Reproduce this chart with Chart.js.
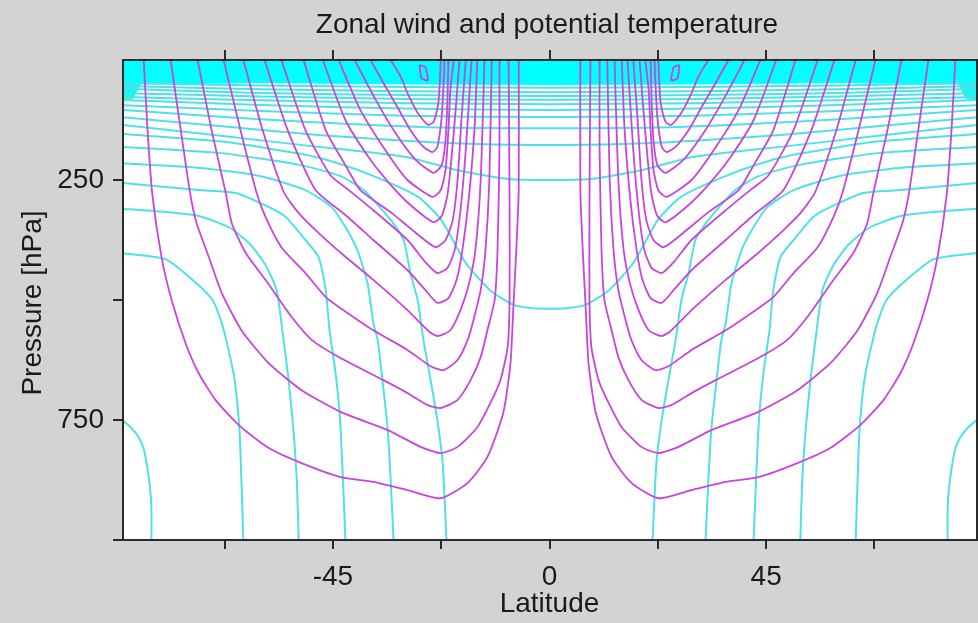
<!DOCTYPE html>
<html>
<head>
<meta charset="utf-8">
<title>Zonal wind and potential temperature</title>
<script src="https://cdn.jsdelivr.net/npm/chart.js@4.4.1/dist/chart.umd.min.js"></script>
<style>
  html, body { margin: 0; padding: 0; background: #d3d3d3; }
  #chart { display: block; }
</style>
</head>
<body>
<canvas id="chart" width="978" height="623"></canvas>
<script>
// Axis ticks and labels
const latTicks = [-67.5, -45, -22.5, 0, 22.5, 45, 67.5];
const latLabels = [-45, 0, 45];
const presTicks = [250, 500, 750];
const presLabels = [250, 750];

const titleText = "Zonal wind and potential temperature";
const xTitle = "Latitude";
const yTitle = "Pressure [hPa]";

// Zonal wind contours, southern hemisphere, [latitude, hPa] (north is the mirror image)
const windSouth = [
  [[-84.3,0],[-83.5,146],[-82.5,281],[-80.6,410],[-78.5,500],[-75.6,590],[-72.9,652],[-69.4,708],[-64.6,760],[-58.4,808],[-51.5,840],[-43.4,869],[-36.6,879],[-29.5,896],[-22.6,913],[-17.0,881],[-12.9,827],[-9.6,735],[-8.1,631],[-7.5,513],[-6.9,396],[-6.4,271],[-6.4,0]],
  [[-78.7,0],[-76.6,146],[-74.6,281],[-73.3,340],[-70.8,410],[-68.1,485],[-64.0,563],[-58.4,631],[-51.5,688],[-43.4,733],[-33.6,771],[-26.8,806],[-22.6,819],[-19.1,806],[-15.0,765],[-12.3,715],[-10.2,667],[-8.7,598],[-8.3,500],[-8.3,292],[-8.5,0]],
  [[-73.1,0],[-70.2,146],[-67.3,275],[-66.0,340],[-63.1,402],[-59.0,458],[-53.6,535],[-49.4,583],[-43.4,621],[-34.5,667],[-29.5,694],[-25.3,719],[-22.6,725],[-19.1,708],[-16.4,667],[-14.3,619],[-12.9,563],[-11.4,500],[-10.8,396],[-10.4,188],[-10.4,0]],
  [[-67.7,0],[-64.2,146],[-60.9,275],[-59.0,327],[-55.7,390],[-50.7,444],[-46.5,494],[-43.4,517],[-36.6,563],[-29.5,604],[-24.7,638],[-22.0,646],[-19.1,625],[-17.0,583],[-15.8,542],[-14.3,479],[-13.3,396],[-12.5,250],[-12.0,0]],
  [[-63.6,0],[-59.6,146],[-55.2,275],[-52.1,319],[-48.0,360],[-42.4,410],[-36.6,458],[-29.5,521],[-25.1,565],[-23.3,575],[-20.6,563],[-18.5,521],[-16.8,469],[-15.4,396],[-14.3,250],[-13.5,0]],
  [[-59.2,0],[-54.4,146],[-48.6,271],[-42.4,323],[-36.6,375],[-29.5,438],[-25.8,479],[-23.3,506],[-21.0,496],[-19.3,458],[-18.1,396],[-16.8,292],[-15.6,146],[-15.0,0]],
  [[-55.7,0],[-50.7,146],[-45.5,240],[-41.7,271],[-36.6,313],[-29.5,375],[-25.8,421],[-23.3,444],[-21.2,433],[-19.7,396],[-18.5,313],[-17.4,188],[-16.2,0]],
  [[-51.1,0],[-46.5,146],[-42.4,219],[-39.3,271],[-33.0,317],[-27.8,360],[-23.7,390],[-21.6,375],[-20.1,333],[-19.1,250],[-18.3,125],[-17.4,0]],
  [[-47.1,0],[-42.4,125],[-37.2,208],[-33.0,260],[-28.9,302],[-24.1,338],[-22.4,325],[-21.2,281],[-20.4,208],[-19.5,104],[-18.7,0]],
  [[-43.8,0],[-39.3,104],[-34.1,188],[-29.5,250],[-24.3,285],[-22.6,271],[-21.6,229],[-21.0,146],[-20.6,63],[-19.9,0]],
  [[-40.5,0],[-36.1,83],[-32.0,152],[-27.8,208],[-24.1,235],[-22.4,219],[-21.6,167],[-21.2,83],[-21.0,0]],
  [[-37.2,0],[-34.5,48],[-31.6,98],[-28.9,146],[-26.2,181],[-24.3,192],[-23.3,181],[-22.4,119],[-22.0,48],[-21.8,0]],
  [[-33.0,0],[-30.9,35],[-29.5,69],[-27.4,110],[-25.3,135],[-24.1,129],[-23.1,90],[-22.8,48],[-22.6,0]],
  [[-27.0,10],[-25.8,15],[-25.3,42],[-26.6,38],[-27.0,10]]
];

// Potential temperature, isentropes reaching the ground, southern hemisphere
const thetaLowSouth = [
  [[-89,748],[-87.0,765],[-85.4,785],[-84.3,810],[-83.7,840],[-83.0,890],[-82.7,935],[-82.7,1000]],
  [[-89,402],[-79.8,415],[-72.9,469],[-70.0,500],[-68.3,542],[-66.9,594],[-65.4,667],[-64.4,771],[-64.0,875],[-63.6,1000]],
  [[-89,310],[-81.8,315],[-72.9,325],[-66.3,350],[-62.1,385],[-59.0,427],[-56.7,479],[-55.5,563],[-54.2,667],[-53.2,771],[-52.5,875],[-52.1,1000]],
  [[-89,256],[-72.9,271],[-65.2,277],[-58.4,306],[-54.8,327],[-50.7,375],[-48.0,410],[-46.5,479],[-45.7,563],[-44.6,640],[-43.6,735],[-42.9,875],[-42.4,1000]],
  [[-89,215],[-72.5,225],[-60.0,242],[-50.7,271],[-45.3,306],[-42.4,348],[-39.9,396],[-37.8,465],[-36.6,548],[-35.7,583],[-34.7,667],[-33.6,771],[-33.0,875],[-32.4,1000]],
  [[-89,181],[-68.3,194],[-51.7,219],[-43.4,242],[-38.6,271],[-33.0,333],[-30.3,375],[-28.9,444],[-27.4,500],[-26.2,583],[-24.7,667],[-23.3,750],[-22.2,840],[-21.4,1000]]
];

// Potential temperature, upper isentropes from the south pole to the equator
const thetaHighSouth = [
  [[-89,154],[-68,170],[-52,195],[-44,215],[-36,244],[-27.3,285],[-22.5,333],[-17.4,423],[-12.3,480],[-7.5,510],[-3.5,517],[0,518]],
  [[-89,135],[-68.3,158],[-48.0,181],[-39.3,190],[-29.7,202],[-19.3,229],[-8.5,248],[0,250]],
  [[-89,119],[-68,138],[-48,156],[-30,168],[-15,175],[0,177]],
  [[-89,104],[-70,117],[-50,129],[-25,140],[0,142]],
  [[-89,94],[-60,106],[-30,116],[0,119]],
  [[-89,83],[-60,94],[-30,101],[0,104]],
  [[-89,77],[-60,84],[-30,90],[0,92]],
  [[-89,69],[-60,76],[-30,81],[0,83]],
  [[-89,60],[-60,69],[-30,73],[0,75]],
  [[-89,54],[-60,61],[-30,65],[0,67]],
  [[-89,48],[-60,53],[-30,56],[0,58]]
];

// Lower edge of the packed isentropes at the top of the plot
const thetaTopBand = [[-89,83],[-86.5,80],[-85,50],[-60,47],[-30,50],[0,51],[30,50],[60,47],[85,50],[86.5,80],[89,83]];

const WIND_COLOR = "#c845da";
const THETA_COLOR = "#4fe1e6";

const toXY = pts => pts.map(([x, y]) => ({ x, y }));
const flip = pts => pts.map(([lat, p]) => [-lat, p]);
const acrossEquator = half => half.concat(flip(half.slice(0, -1)).reverse());

function contour(pts, color, width, order) {
  return {
    data: toXY(pts),
    showLine: true,
    pointRadius: 0,
    borderColor: color,
    borderWidth: width,
    tension: 0.2,
    fill: false,
    order: order
  };
}

const datasets = [];
datasets.push({
  data: toXY(thetaTopBand),
  showLine: true,
  pointRadius: 0,
  borderColor: "#00ffff",
  borderWidth: 1,
  backgroundColor: "#00ffff",
  fill: { value: 0 },
  tension: 0,
  order: 3
});
thetaLowSouth.forEach(pts => {
  datasets.push(contour(pts, THETA_COLOR, 2, 2));
  datasets.push(contour(flip(pts), THETA_COLOR, 2, 2));
});
thetaHighSouth.forEach(pts => {
  datasets.push(contour(acrossEquator(pts), THETA_COLOR, 2, 2));
});
windSouth.forEach(pts => {
  datasets.push(contour(pts, WIND_COLOR, 1.8, 1));
  datasets.push(contour(flip(pts), WIND_COLOR, 1.8, 1));
});

const FONT = '"Liberation Sans", Arial, sans-serif';
const INK = "#1a1a1a";
const AXIS = "#2a2a2a";

// grey page, white plot area, frame and titles
const framePlugin = {
  id: "frame",
  beforeDraw(chart) {
    const { ctx, chartArea: a } = chart;
    ctx.save();
    ctx.fillStyle = "#d3d3d3";
    ctx.fillRect(0, 0, chart.width, chart.height);
    ctx.fillStyle = "#ffffff";
    ctx.fillRect(a.left, a.top, a.right - a.left, a.bottom - a.top);
    ctx.restore();
  },
  afterDraw(chart) {
    const { ctx, chartArea: a } = chart;
    ctx.save();
    ctx.strokeStyle = AXIS;
    ctx.lineWidth = 2;
    ctx.strokeRect(a.left, a.top, a.right - a.left, a.bottom - a.top);
    ctx.beginPath();
    ctx.moveTo(a.left - 10, a.bottom);
    ctx.lineTo(a.left, a.bottom);
    ctx.stroke();

    ctx.fillStyle = INK;
    ctx.font = "28px " + FONT;
    ctx.textAlign = "center";
    ctx.textBaseline = "alphabetic";
    ctx.fillText(titleText, 547, 33);
    ctx.fillText(xTitle, chart.scales.x.getPixelForValue(0), 612);
    ctx.translate(41, 303);
    ctx.rotate(-Math.PI / 2);
    ctx.fillText(yTitle, 0, 0);
    ctx.restore();
  }
};

const latRange = { min: -88.6, max: 88.8 };

new Chart(document.getElementById("chart"), {
  type: "scatter",
  data: { datasets },
  plugins: [framePlugin],
  options: {
    responsive: false,
    animation: false,
    devicePixelRatio: 1,
    events: [],
    layout: { padding: { top: 50, right: 1, left: 0, bottom: 0 } },
    plugins: {
      legend: { display: false },
      tooltip: { enabled: false },
      title: { display: false }
    },
    scales: {
      x: {
        type: "linear",
        position: "bottom",
        min: latRange.min,
        max: latRange.max,
        afterBuildTicks: s => { s.ticks = latTicks.map(value => ({ value })); },
        afterFit: s => { s.height = 83; },
        grid: { drawOnChartArea: false, color: AXIS, lineWidth: 2, tickLength: 9 },
        border: { display: false },
        ticks: {
          autoSkip: false,
          maxRotation: 0,
          padding: 11,
          color: INK,
          font: { family: FONT, size: 28 },
          callback: v => latLabels.includes(v) ? String(v) : ""
        }
      },
      xTop: {
        type: "linear",
        position: "top",
        min: latRange.min,
        max: latRange.max,
        afterBuildTicks: s => { s.ticks = latTicks.map(value => ({ value })); },
        afterFit: s => { s.height = 10; },
        grid: { drawOnChartArea: false, color: AXIS, lineWidth: 2, tickLength: 10 },
        border: { display: false },
        ticks: { display: false }
      },
      y: {
        type: "linear",
        reverse: true,
        min: 0,
        max: 1000,
        afterBuildTicks: s => { s.ticks = presTicks.map(value => ({ value })); },
        afterFit: s => { s.width = 123; },
        grid: { drawOnChartArea: false, color: AXIS, lineWidth: 2, tickLength: 10 },
        border: { display: false },
        ticks: {
          padding: 9,
          color: INK,
          font: { family: FONT, size: 28 },
          callback: v => presLabels.includes(v) ? String(v) : ""
        }
      }
    }
  }
});
</script>
</body>
</html>
